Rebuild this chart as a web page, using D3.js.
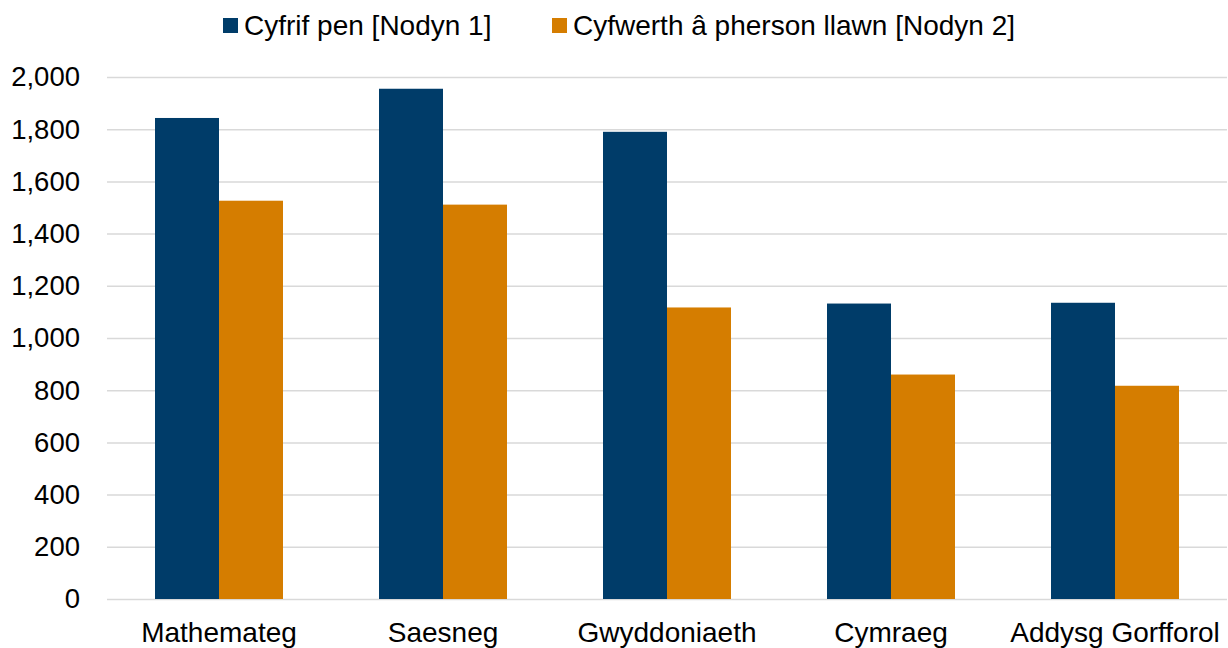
<!DOCTYPE html>
<html><head><meta charset="utf-8">
<script src="https://cdn.jsdelivr.net/npm/d3@7"></script>
<style>body{margin:0;background:#fff}svg{display:block}text{font-family:"Liberation Sans",Arial,sans-serif}</style>
</head><body><svg id="c" width="1228" height="648"></svg>
<script>
const categories = ["Mathemateg","Saesneg","Gwyddoniaeth","Cymraeg","Addysg Gorfforol"];
const seriesNames = ["Cyfrif pen [Nodyn 1]","Cyfwerth â pherson llawn [Nodyn 2]"];
const headcount = [1843,1955,1790,1132,1135];
const fte = [1526,1511,1117,860,817];
const yTicks = [0,200,400,600,800,1000,1200,1400,1600,1800,2000];
const colors = ["#003C69","#D57D00"];

(function(){
const svg = d3.select("#c");
const pl = 107, pr = 1227, pt = 77, pb = 599;
const x = d3.scaleBand().domain(categories).range([pl,pr]).paddingInner(0.4286).paddingOuter(0.2143);
const xs = d3.scaleBand().domain([0,1]).range([0,x.bandwidth()]);
const y = d3.scaleLinear().domain([0,2000]).range([pb,pt]);
const fmt = d3.format(",");

const grid = svg.append("g").attr("transform",`translate(${pl},0)`)
  .call(d3.axisLeft(y).tickValues(yTicks).tickSize(-(pr-pl)).tickFormat(fmt).tickPadding(27));
grid.select(".domain").remove();
grid.selectAll(".tick line").attr("stroke","#D9D9D9").attr("stroke-width",1.5);
grid.selectAll(".tick text").attr("font-size",27.5).attr("fill","#000").attr("font-family",null);

const data = categories.map((c,i)=>({c, v:[headcount[i],fte[i]]}));
const g = svg.append("g").selectAll("g").data(data).join("g").attr("transform",d=>`translate(${x(d.c)},0)`);
g.selectAll("rect").data(d=>d.v.map((v,j)=>({v,j}))).join("rect")
  .attr("x",d=>xs(d.j)).attr("width",xs.bandwidth())
  .attr("y",d=>y(d.v)).attr("height",d=>y(0)-y(d.v)).attr("fill",d=>colors[d.j]);

const xa = svg.append("g").attr("transform",`translate(0,${pb})`)
  .call(d3.axisBottom(x).tickSize(0).tickPadding(23));
xa.select(".domain").remove();
xa.selectAll(".tick text").attr("font-size",28).attr("fill","#000").attr("font-family",null);

const legX = [223, 552];
const lg = svg.append("g").selectAll("g").data(seriesNames).join("g")
  .attr("transform",(d,i)=>`translate(${legX[i]},18)`);
lg.append("rect").attr("width",15).attr("height",15).attr("fill",(d,i)=>colors[i]);
lg.append("text").attr("x",21).attr("y",17).attr("font-size",28).attr("fill","#000").text(d=>d);
})();
</script></body></html>
